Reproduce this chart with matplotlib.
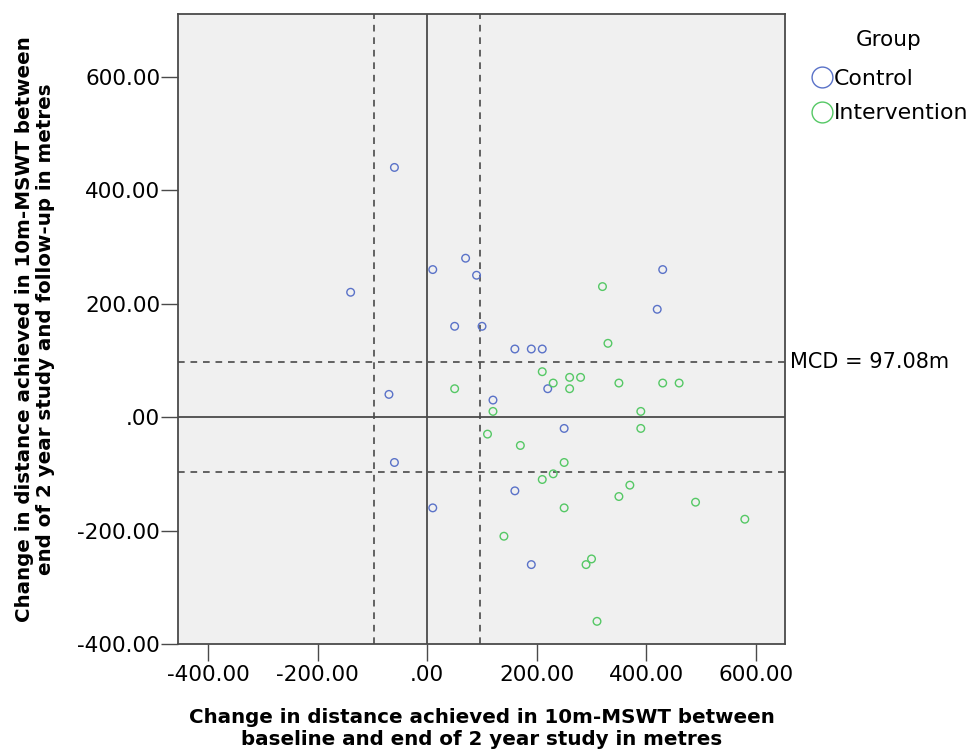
import matplotlib.pyplot as plt
from matplotlib.lines import Line2D
from matplotlib.ticker import FuncFormatter

# change from baseline to end of study (x) and end of study to follow-up (y), metres
control_x = [-60, -140, 10, 70, 90, 50, 100, 430, 420, 160, 190, 210, 220, 120, 250, -70, -60, 10, 160, 190]
control_y = [440, 220, 260, 280, 250, 160, 160, 260, 190, 120, 120, 120, 50, 30, -20, 40, -80, -160, -130, -260]

interv_x = [320, 330, 210, 50, 230, 260, 280, 260, 350, 430, 460, 120, 390, 390, 110, 170, 250, 230,
            210, 370, 350, 490, 580, 250, 140, 300, 290, 310]
interv_y = [230, 130, 80, 50, 60, 70, 70, 50, 60, 60, 60, 10, 10, -20, -30, -50, -80, -100,
            -110, -120, -140, -150, -180, -160, -210, -250, -260, -360]

mcd = 97.08
x_ticks = [-400, -200, 0, 200, 400, 600]
y_ticks = [-400, -200, 0, 200, 400, 600]

blue = '#5a72c8'
green = '#55c865'
dark = '#4a4a4a'

plt.rcParams.update({'font.family': 'DejaVu Sans'})

fig = plt.figure(figsize=(9.71, 7.56), dpi=100)
ax = fig.add_axes([0.1836, 0.1481, 0.6248, 0.8338])
ax.set_facecolor('#f0f0f0')

ax.axhline(0, color=dark, lw=1.3, zorder=1)
ax.axvline(0, color=dark, lw=1.3, zorder=1)
for v in [mcd, -mcd]:
    ax.axhline(v, color=dark, lw=1.2, ls=(0, (4, 3.5)), zorder=1)
    ax.axvline(v, color=dark, lw=1.2, ls=(0, (4, 3.5)), zorder=1)

ax.scatter(control_x, control_y, s=30, facecolors='none', edgecolors=blue, linewidths=1.0, zorder=3)
ax.scatter(interv_x, interv_y, s=30, facecolors='none', edgecolors=green, linewidths=1.0, zorder=3)

ax.set_xlim(-454.8, 653.3)
ax.set_ylim(-400, 711)
ax.set_xticks(x_ticks)
ax.set_yticks(y_ticks)


def fmt(v, pos):
    s = '{:.2f}'.format(v)
    if s == '0.00' or s == '-0.00':
        s = '.00'
    return s


ax.xaxis.set_major_formatter(FuncFormatter(fmt))
ax.yaxis.set_major_formatter(FuncFormatter(fmt))
ax.tick_params(axis='both', direction='out', length=12, width=1.0, color=dark, labelsize=15.5)
ax.tick_params(axis='x', pad=3)
ax.tick_params(axis='y', pad=1)
for sp in ax.spines.values():
    sp.set_color(dark)
    sp.set_linewidth(1.3)

ax.set_xlabel('Change in distance achieved in 10m-MSWT between\nbaseline and end of 2 year study in metres',
              fontsize=14.3, fontweight='bold', labelpad=17, linespacing=1.15)
ax.set_ylabel('Change in distance achieved in 10m-MSWT between\nend of 2 year study and follow-up in metres',
              fontsize=14.3, fontweight='bold', labelpad=16, linespacing=1.15)

ax.text(1.008, mcd, 'MCD = 97.08m', transform=ax.get_yaxis_transform(), fontsize=15,
        va='center', ha='left')

# legend
fig.text(889 / 971, 1 - 40 / 756, 'Group', fontsize=15.5, ha='center', va='center')
handles = [Line2D([], [], ls='none', marker='o', markersize=15, markerfacecolor='none',
                  markeredgecolor=blue, markeredgewidth=1.0, label='Control'),
           Line2D([], [], ls='none', marker='o', markersize=15, markerfacecolor='none',
                  markeredgecolor=green, markeredgewidth=1.0, label='Intervention')]
leg = ax.legend(handles=handles, loc='upper left', bbox_to_anchor=(1.044, 0.912),
                frameon=False, fontsize=15.8, handlelength=0.9, handletextpad=0.1,
                labelspacing=0.65, borderaxespad=0, borderpad=0)

fig.savefig('out.png', dpi=100)
